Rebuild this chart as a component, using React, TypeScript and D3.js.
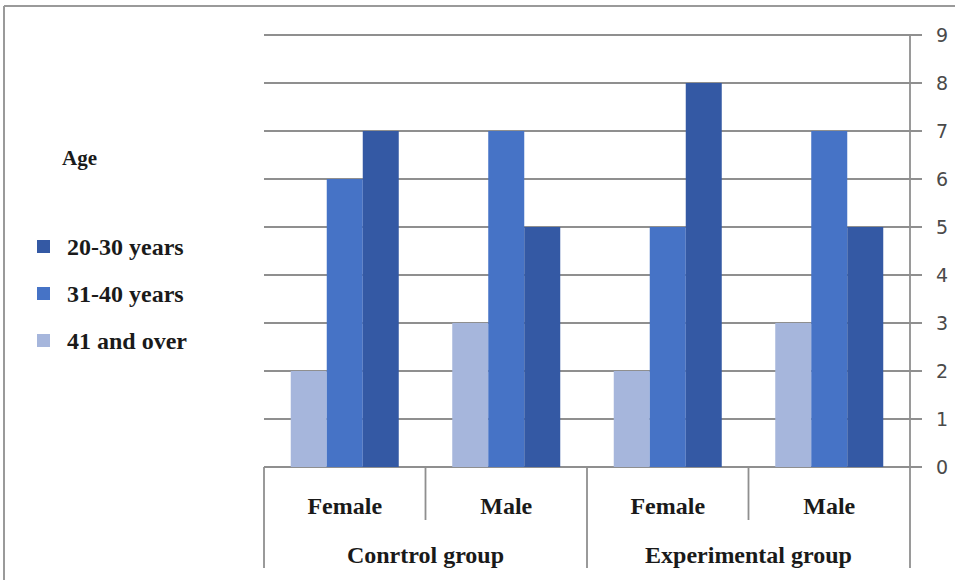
import React from "react";
import * as d3 from "d3";

// Groups and sub-categories along the bottom axis
const groups = ["Conrtrol group", "Experimental group"];
const genders = ["Female", "Male"];
const categories = ["Control-Female", "Control-Male", "Experimental-Female", "Experimental-Male"];

// Age bands (drawn left to right inside each cluster)
const seriesNames = ["41 and over", "31-40 years", "20-30 years"];
// Legend order (top to bottom)
const legendOrder = ["20-30 years", "31-40 years", "41 and over"];

// Counts per category for each age band
const age41Plus = [2, 3, 2, 3];
const age31to40 = [6, 7, 5, 7];
const age20to30 = [7, 5, 8, 5];

const yTicks = [0, 1, 2, 3, 4, 5, 6, 7, 8, 9];

const colors: Record<string, string> = {
  "20-30 years": "#3459A4",
  "31-40 years": "#4673C6",
  "41 and over": "#A6B6DC",
};

const W = 955;
const H = 580;
const plotLeft = 264;
const plotRight = 910;
const plotTop = 35;
const plotBottom = 467;
const gridColor = "#8f8f8f";
const serif = "'Liberation Serif', 'Times New Roman', serif";

export default function App() {
  const values: Record<string, number[]> = {
    "41 and over": age41Plus,
    "31-40 years": age31to40,
    "20-30 years": age20to30,
  };

  const x0 = d3.scaleBand<string>().domain(categories).range([plotLeft, plotRight]).padding(0);
  const x1 = d3
    .scaleBand<string>()
    .domain(seriesNames)
    .range([0, x0.bandwidth()])
    .paddingInner(0)
    .paddingOuter(0.743);
  const y = d3.scaleLinear().domain([0, 9]).range([plotBottom, plotTop]);

  const groupX = d3.scaleBand<string>().domain(groups).range([plotLeft, plotRight]);

  const shortDrop = 53;
  const longDrop = 101;

  return (
    <svg
      width={W}
      height={H}
      style={{ position: "absolute", left: 0, top: 0, background: "#fff" }}
    >
      {/* outer frame */}
      <line x1={4} y1={6} x2={W} y2={6} stroke="#9a9a9a" strokeWidth={2} />
      <line x1={4} y1={6} x2={4} y2={H} stroke="#9a9a9a" strokeWidth={2} />

      {/* horizontal gridlines with tick stubs */}
      {yTicks.map((t) => (
        <line
          key={`g${t}`}
          x1={plotLeft}
          x2={plotRight + 12}
          y1={y(t)}
          y2={y(t)}
          stroke={gridColor}
          strokeWidth={1.8}
        />
      ))}

      {/* bars */}
      {categories.map((c, i) => (
        <g key={c} transform={`translate(${x0(c)},0)`}>
          {seriesNames.map((s) => (
            <rect
              key={s}
              x={x1(s)}
              y={y(values[s][i])}
              width={x1.bandwidth()}
              height={y(0) - y(values[s][i])}
              fill={colors[s]}
            />
          ))}
        </g>
      ))}

      {/* right value axis */}
      <line
        x1={plotRight}
        x2={plotRight}
        y1={plotTop}
        y2={plotBottom + longDrop}
        stroke={gridColor}
        strokeWidth={1.8}
      />
      {yTicks.map((t) => (
        <text
          key={`t${t}`}
          x={942}
          y={y(t)}
          dy="0.36em"
          textAnchor="middle"
          fontFamily="'DejaVu Sans', sans-serif"
          fontSize={19}
          fill="#4a4a4a"
        >
          {t}
        </text>
      ))}

      {/* category axis dividers */}
      {categories.map((c, i) => (
        <line
          key={`d${c}`}
          x1={x0(c)!}
          x2={x0(c)!}
          y1={plotBottom}
          y2={plotBottom + (i % 2 === 0 ? longDrop : shortDrop)}
          stroke={gridColor}
          strokeWidth={1.8}
        />
      ))}

      {/* gender labels */}
      {categories.map((c, i) => (
        <text
          key={`l${c}`}
          x={x0(c)! + x0.bandwidth() / 2}
          y={514}
          textAnchor="middle"
          fontFamily={serif}
          fontWeight="bold"
          fontSize={24}
          fill="#1a1a1a"
        >
          {genders[i % 2]}
        </text>
      ))}

      {/* group labels */}
      {groups.map((g) => (
        <text
          key={g}
          x={groupX(g)! + groupX.bandwidth() / 2}
          y={563}
          textAnchor="middle"
          fontFamily={serif}
          fontWeight="bold"
          fontSize={24}
          fill="#1a1a1a"
        >
          {g}
        </text>
      ))}

      {/* legend */}
      <text x={62} y={165} fontFamily={serif} fontWeight="bold" fontSize={21} fill="#1a1a1a">
        Age
      </text>
      {legendOrder.map((s, i) => (
        <g key={`lg${s}`} transform={`translate(0,${255 + i * 47})`}>
          <rect x={37} y={-15} width={13} height={13} fill={colors[s]} />
          <text x={67} y={0} fontFamily={serif} fontWeight="bold" fontSize={24} fill="#1a1a1a">
            {s}
          </text>
        </g>
      ))}
    </svg>
  );
}
